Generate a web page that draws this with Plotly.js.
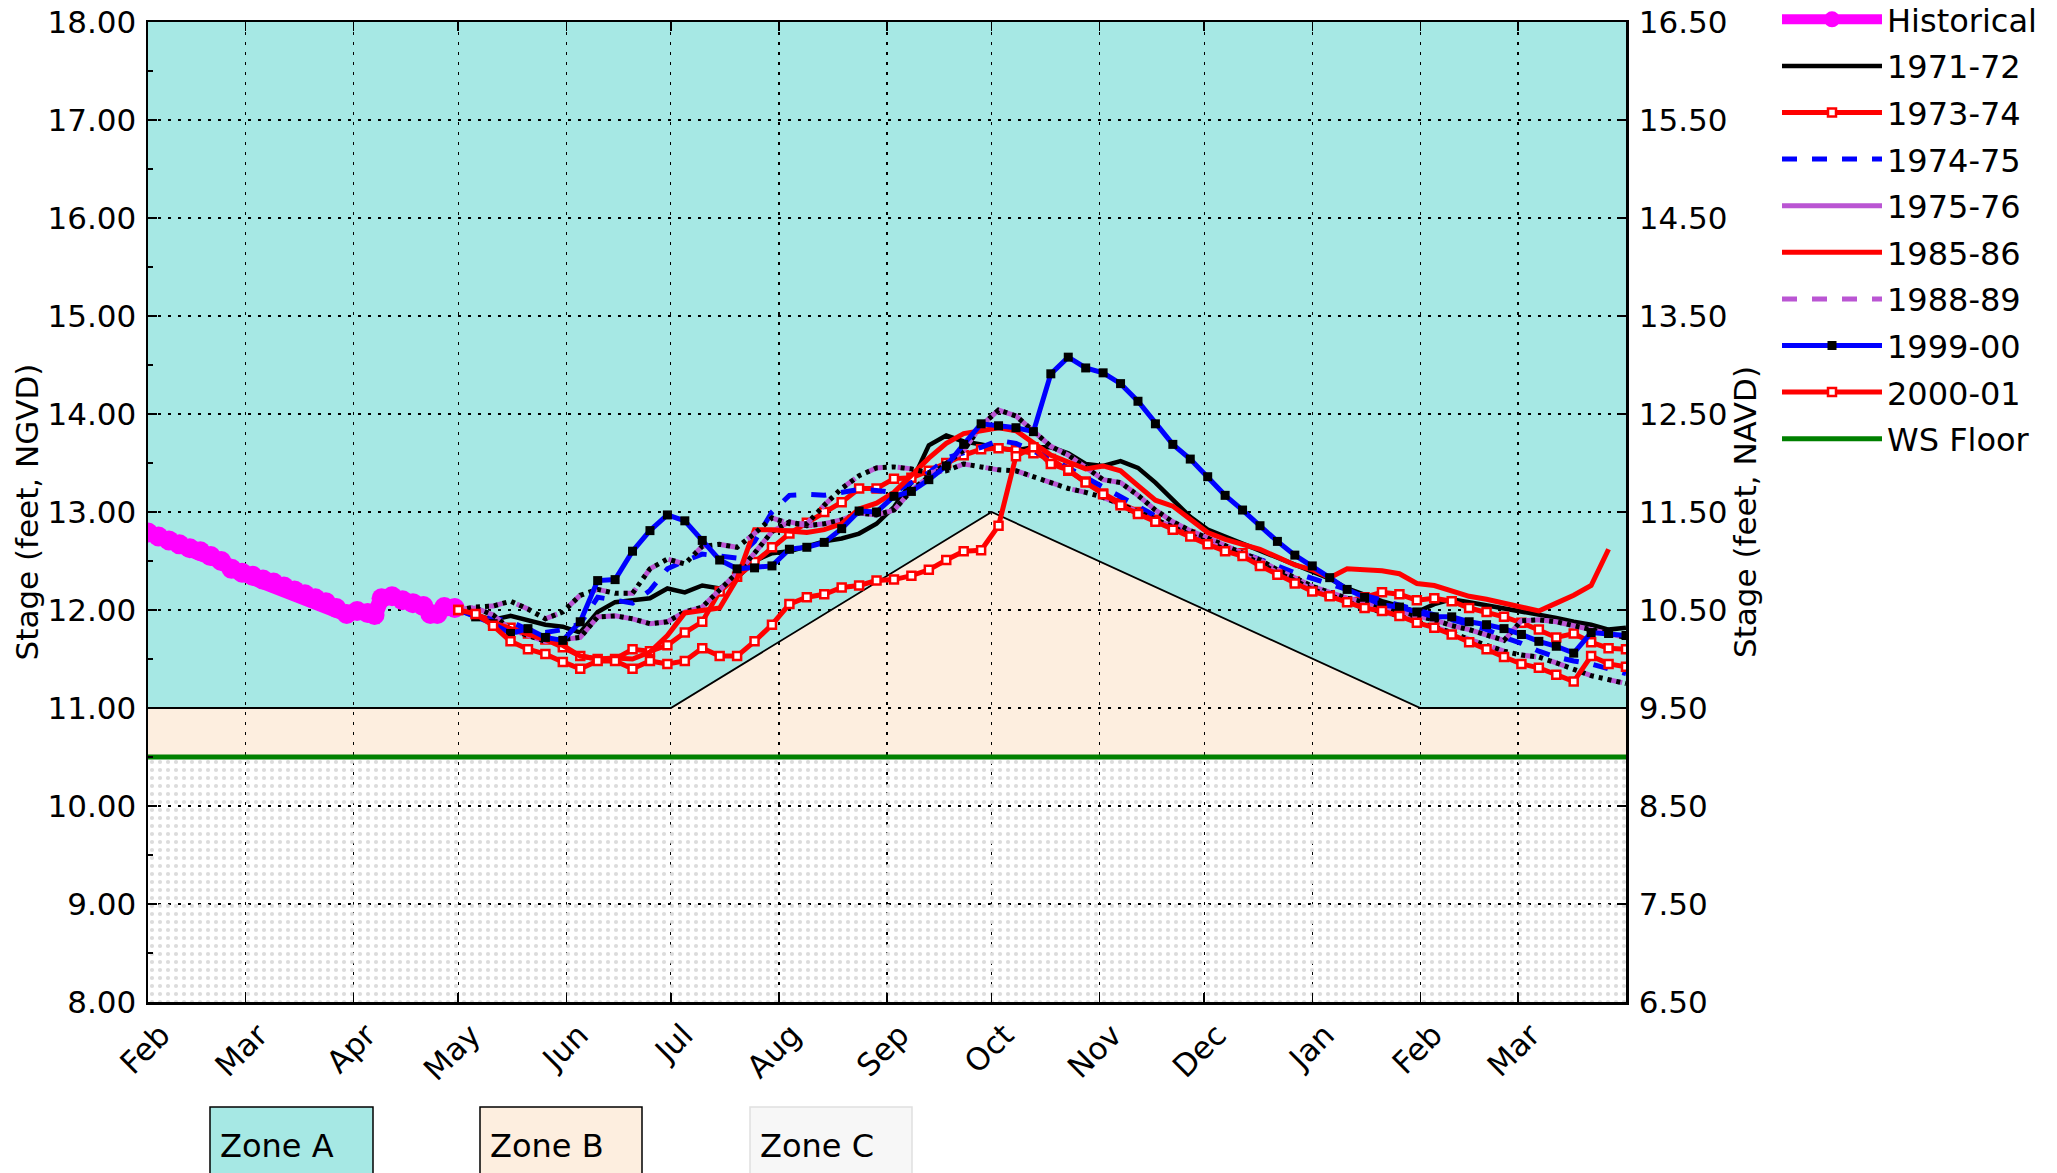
<!DOCTYPE html>
<html><head><meta charset="utf-8">
<script src="https://cdn.plot.ly/plotly-3.0.1.min.js"></script>
<style>body{margin:0;background:#fff}#chart{width:2057px;height:1173px}</style>
</head><body><div id="chart"></div><script>
// ---------- data ----------
const histDates = ['2021-02-01','2021-02-04','2021-02-07','2021-02-10','2021-02-13','2021-02-16','2021-02-19','2021-02-22','2021-02-25','2021-02-28',
  '2021-03-03','2021-03-06','2021-03-09','2021-03-12','2021-03-15','2021-03-18','2021-03-21','2021-03-24','2021-03-27','2021-03-30',
  '2021-04-02','2021-04-05','2021-04-07','2021-04-09','2021-04-12','2021-04-15','2021-04-18','2021-04-21','2021-04-23','2021-04-25','2021-04-27','2021-04-30'];
const histStage = [12.79,12.75,12.71,12.67,12.63,12.60,12.55,12.50,12.42,12.38,
  12.35,12.31,12.28,12.24,12.20,12.16,12.12,12.08,12.02,11.96,
  11.99,11.97,11.95,12.12,12.14,12.10,12.07,12.04,11.96,11.96,12.03,12.02];

const simDates = ['2021-05-01','2021-05-06','2021-05-11','2021-05-16','2021-05-21','2021-05-26','2021-05-31',
  '2021-06-05','2021-06-10','2021-06-15','2021-06-20','2021-06-25','2021-06-30',
  '2021-07-05','2021-07-10','2021-07-15','2021-07-20','2021-07-25','2021-07-30',
  '2021-08-04','2021-08-09','2021-08-14','2021-08-19','2021-08-24','2021-08-29',
  '2021-09-03','2021-09-08','2021-09-13','2021-09-18','2021-09-23','2021-09-28',
  '2021-10-03','2021-10-08','2021-10-13','2021-10-18','2021-10-23','2021-10-28',
  '2021-11-02','2021-11-07','2021-11-12','2021-11-17','2021-11-22','2021-11-27',
  '2021-12-02','2021-12-07','2021-12-12','2021-12-17','2021-12-22','2021-12-27',
  '2022-01-01','2022-01-06','2022-01-11','2022-01-16','2022-01-21','2022-01-26','2022-01-31',
  '2022-02-05','2022-02-10','2022-02-15','2022-02-20','2022-02-25',
  '2022-03-02','2022-03-07','2022-03-12','2022-03-17','2022-03-22','2022-03-27','2022-04-01'];

const y1971 = [12.00,11.95,11.90,11.94,11.90,11.85,11.83,11.77,11.98,12.08,12.10,12.12,12.22,12.18,12.25,12.22,12.33,12.50,12.58,12.60,
  12.65,12.70,12.73,12.78,12.88,13.05,13.30,13.68,13.78,13.72,13.69,13.65,13.63,13.66,13.66,13.60,13.49,13.47,13.52,13.45,
  13.30,13.12,12.95,12.82,12.75,12.68,12.60,12.54,12.47,12.40,12.32,12.22,12.15,12.09,12.04,11.98,12.06,12.11,12.08,12.05,
  12.02,11.98,11.96,11.92,11.88,11.85,11.80,11.82];
const y1973 = [12.00,11.96,11.88,11.82,11.76,11.70,11.62,11.53,11.50,11.50,11.60,11.58,11.64,11.77,11.88,12.19,12.34,12.49,12.64,12.78,
  12.89,13.00,13.10,13.24,13.24,13.34,13.35,13.42,13.50,13.58,13.64,13.65,13.63,13.60,13.54,13.42,13.31,13.19,13.09,13.00,
  12.92,12.84,12.77,12.69,12.61,12.58,12.47,12.38,12.29,12.20,12.15,12.09,12.13,12.18,12.16,12.10,12.12,12.09,12.02,11.98,
  11.93,11.87,11.80,11.72,11.76,11.67,11.61,11.60];
const y1974 = [12.00,11.96,11.93,11.88,11.80,11.77,11.80,11.86,12.13,12.10,12.07,12.20,12.42,12.50,12.57,12.55,12.53,12.70,13.00,13.17,
  13.18,13.17,13.20,13.23,13.22,13.20,13.30,13.40,13.55,13.60,13.66,13.73,13.70,13.62,13.55,13.45,13.35,13.25,13.15,13.05,
  12.96,12.88,12.80,12.72,12.65,12.58,12.52,12.45,12.38,12.32,12.26,12.20,12.15,12.10,12.05,12.00,11.95,11.90,11.85,11.80,
  11.72,11.66,11.58,11.52,11.48,11.45,11.40,11.35];
const y1975 = [12.00,12.02,11.95,11.80,11.74,11.68,11.70,11.72,11.93,11.94,11.91,11.86,11.88,11.98,12.03,12.21,12.38,12.58,12.80,12.90,
  12.86,12.88,12.92,12.99,12.97,13.02,13.22,13.36,13.50,13.63,13.88,14.04,13.98,13.83,13.67,13.58,13.45,13.33,13.30,13.17,
  13.02,12.90,12.81,12.73,12.66,12.58,12.51,12.41,12.33,12.24,12.18,12.12,12.08,12.03,11.98,11.94,11.90,11.84,11.80,11.74,
  11.69,11.89,11.90,11.88,11.84,11.80,11.76,11.72];
const y1985 = [12.00,11.93,11.87,11.81,11.75,11.70,11.64,11.53,11.50,11.51,11.50,11.57,11.74,11.97,11.99,12.02,12.32,12.82,12.82,12.80,
  12.79,12.82,12.88,13.03,13.09,13.20,13.38,13.55,13.70,13.80,13.83,13.86,13.83,13.70,13.58,13.51,13.44,13.47,13.42,13.27,
  13.12,13.06,12.92,12.79,12.72,12.67,12.62,12.54,12.46,12.41,12.33,12.42,12.41,12.40,12.37,12.27,12.25,12.20,12.14,12.11,
  12.07,12.03,11.99,12.07,12.15,12.25,12.62,null];
const y1988 = [12.00,12.03,12.04,12.09,12.01,11.91,11.98,12.15,12.21,12.17,12.17,12.42,12.52,12.47,12.65,12.67,12.64,12.78,12.94,12.88,
  12.88,13.07,13.24,13.37,13.45,13.46,13.44,13.40,13.42,13.49,13.46,13.43,13.42,13.36,13.30,13.24,13.20,13.15,13.08,13.00,
  12.92,12.84,12.77,12.69,12.62,12.56,12.48,12.38,12.30,12.21,12.15,12.08,12.02,11.98,11.94,11.88,11.83,11.77,11.70,11.64,
  11.58,11.54,11.52,11.46,11.40,11.33,11.29,11.25];
const y1999 = [12.00,11.93,11.86,11.76,11.81,11.72,11.69,11.88,12.30,12.31,12.60,12.81,12.97,12.91,12.71,12.51,12.42,12.43,12.45,12.62,
  12.64,12.69,12.83,13.01,13.00,13.16,13.21,13.33,13.47,13.69,13.90,13.88,13.86,13.82,14.41,14.58,14.47,14.42,14.31,14.13,
  13.90,13.69,13.54,13.36,13.17,13.02,12.86,12.70,12.56,12.45,12.33,12.21,12.13,12.05,12.03,11.98,11.93,11.93,11.88,11.85,
  11.81,11.75,11.68,11.63,11.56,11.77,11.76,11.74];
const y2000 = [12.00,11.96,11.84,11.68,11.60,11.55,11.47,11.40,11.48,11.48,11.40,11.48,11.45,11.48,11.61,11.53,11.53,11.68,11.85,12.06,
  12.13,12.16,12.23,12.25,12.30,12.31,12.35,12.41,12.51,12.60,12.61,12.86,13.57,13.66,13.49,13.43,13.30,13.18,13.07,12.98,
  12.90,12.82,12.75,12.67,12.60,12.55,12.45,12.36,12.27,12.19,12.14,12.08,12.02,11.99,11.94,11.87,11.82,11.75,11.67,11.60,
  11.52,11.45,11.41,11.34,11.27,11.53,11.45,11.42];

// zone definitions
const zoneDates = ['2021-02-01','2021-07-01','2021-10-01','2022-02-01','2022-04-01'];
const zoneBTop = [11.0, 11.0, 13.0, 11.0, 11.0];
const wsFloorLevel = 10.5;
const zoneATop = 18.0;
const xRange = ['2021-02-01','2022-04-01'];
const tickMonths = ['2021-02-01','2021-03-01','2021-04-01','2021-05-01','2021-06-01','2021-07-01','2021-08-01',
  '2021-09-01','2021-10-01','2021-11-01','2021-12-01','2022-01-01','2022-02-01','2022-03-01'];
const yRange = [8, 18];
const y2Range = [6.5, 16.5];
const zoneLabels = ['Zone A','Zone B','Zone C'];

// ---------- styles ----------
const FONT = 'DejaVu Sans';
const C_A = '#a6e8e4', C_B = '#fdeedf', PURPLE = '#ba55d3';

function line(name, y, color, extra) {
  return Object.assign({x: simDates, y: y, name: name, type: 'scatter', mode: 'lines',
    line: {color: color, width: 5}, legendgroup: name, hoverinfo: 'skip'}, extra || {});
}
function dotsOver(name, y) {
  return {x: simDates, y: y, type: 'scatter', mode: 'lines', legendgroup: name, showlegend: false,
    line: {color: '#000', width: 5, dash: '4px,5px'}, hoverinfo: 'skip'};
}
const sqRed = {mode: 'lines+markers', marker: {symbol: 'square', size: 8, color: '#fff', line: {color: '#ff0000', width: 2.5}}};

const nLast = zoneDates.length - 1;
const traces = [
  {x: [zoneDates[0], zoneDates[nLast]], y: [wsFloorLevel, wsFloorLevel], type: 'scatter', mode: 'lines',
   line: {width: 0, color: 'rgba(0,0,0,0)'}, fill: 'tozeroy', fillcolor: 'rgba(0,0,0,0)',
   fillpattern: {shape: '.', fgcolor: '#dcdcdc', bgcolor: 'rgba(0,0,0,0)', size: 8, solidity: 0.22},
   showlegend: false, hoverinfo: 'skip'},
  {x: zoneDates, y: zoneBTop, type: 'scatter', mode: 'lines', line: {color: '#000', width: 1.8},
   showlegend: false, hoverinfo: 'skip'},
  {x: histDates, y: histStage, name: 'Historical', type: 'scatter', mode: 'lines+markers', legendgroup: 'Historical',
   line: {color: '#ff00ff', width: 16}, marker: {color: '#ff00ff', size: 20}, hoverinfo: 'skip'},
  line('1971-72', y1971, '#000000', {line: {color: '#000', width: 4.5}}),
  line('1973-74', y1973, '#ff0000', sqRed),
  line('1974-75', y1974, '#0000ff', {line: {color: '#0000ff', width: 5, dash: 'dash'}}),
  line('1975-76', y1975, PURPLE),
  dotsOver('1975-76', y1975),
  line('1985-86', y1985, '#ff0000'),
  line('1988-89', y1988, PURPLE, {line: {color: PURPLE, width: 5, dash: 'dash'}}),
  dotsOver('1988-89', y1988),
  line('1999-00', y1999, '#0000ff', {mode: 'lines+markers', marker: {symbol: 'square', size: 9, color: '#000'}}),
  line('2000-01', y2000, '#ff0000', sqRed),
  {x: [zoneDates[0], zoneDates[nLast]], y: [wsFloorLevel, wsFloorLevel], name: 'WS Floor', type: 'scatter', mode: 'lines',
   legendgroup: 'WS Floor', line: {color: '#008000', width: 5}, hoverinfo: 'skip'},
  {x: [], y: [], yaxis: 'y2', type: 'scatter', showlegend: false}
];

// zone polygons (drawn beneath the grid)
function pathFrom(xs, ys) {
  return xs.map((d, i) => (i ? 'L' : 'M') + d + ',' + ys[i]).join(' ') + ' Z';
}
const topX = [zoneDates[0]].concat(zoneDates, [zoneDates[nLast]]);
const zoneAPathY = [zoneATop].concat(zoneBTop, [zoneATop]);
const zoneBPathY = [wsFloorLevel].concat(zoneBTop, [wsFloorLevel]);

const plotL = 148, plotR = 1626, plotT = 22, plotB = 1002;
const W = 2057, H = 1173;
const px2x = p => (p - plotL) / (plotR - plotL);
const py2y = p => (plotB - p) / (plotB - plotT);

const boxX = [[210, 373], [480, 642], [750, 912]];
const boxFill = [C_A, C_B, '#f7f7f7'];
const boxLine = ['#000', '#000', '#e0e0e0'];

const shapes = [
  {type: 'path', xref: 'x', yref: 'y', path: pathFrom(topX, zoneAPathY), fillcolor: C_A, line: {width: 0}, layer: 'below'},
  {type: 'path', xref: 'x', yref: 'y', path: pathFrom(topX, zoneBPathY), fillcolor: C_B, line: {width: 0}, layer: 'below'}
];
const annotations = [];
zoneLabels.forEach((lab, i) => {
  shapes.push({type: 'rect', xref: 'paper', yref: 'paper', x0: px2x(boxX[i][0]), x1: px2x(boxX[i][1]),
    y0: py2y(1200), y1: py2y(1107), fillcolor: boxFill[i], line: {color: boxLine[i], width: 1.5}, layer: 'above'});
  annotations.push({xref: 'paper', yref: 'paper', x: px2x(boxX[i][0] + 8), y: py2y(1146), xanchor: 'left', yanchor: 'middle',
    text: lab, showarrow: false, font: {family: FONT, size: 32, color: '#000'}});
});

const axFont = {family: FONT, size: 31, color: '#000'};
const legFont = {family: FONT, size: 32, color: '#000'};
const layout = {
  width: W, height: H,
  margin: {l: plotL, r: W - plotR, t: plotT, b: H - plotB, autoexpand: false},
  paper_bgcolor: '#fff', plot_bgcolor: '#fff',
  font: axFont,
  showlegend: true,
  legend: {x: px2x(1777), y: py2y(-8), xanchor: 'left', yanchor: 'top', font: legFont,
    bgcolor: 'rgba(0,0,0,0)', traceorder: 'grouped', tracegroupgap: 2, itemwidth: 100},
  xaxis: {type: 'date', range: xRange, tickmode: 'array', tickvals: tickMonths, tickformat: '%b', tickangle: -45,
    tickfont: axFont, ticks: 'inside', ticklen: 9, tickwidth: 1.5, tickcolor: '#000', ticklabelshift: 13,
    showline: true, linewidth: 2.5, linecolor: '#000', mirror: 'ticks',
    showgrid: true, gridcolor: '#000', gridwidth: 1.2, griddash: '3px,7px', zeroline: false},
  yaxis: {range: yRange, tick0: 8, dtick: 1, tickformat: '.2f', tickfont: axFont,
    ticks: 'inside', ticklen: 9, tickwidth: 1.5, tickcolor: '#000', ticklabelstandoff: 3,
    minor: {ticks: 'inside', ticklen: 5, dtick: 0.5, tickcolor: '#000', tickwidth: 1.2, showgrid: false},
    showline: true, linewidth: 2.5, linecolor: '#000',
    showgrid: true, gridcolor: '#000', gridwidth: 1.2, griddash: '3px,7px', zeroline: false,
    title: {text: 'Stage (feet, NGVD)', font: axFont, standoff: 0}},
  yaxis2: {overlaying: 'y', side: 'right', range: y2Range, tick0: 6.5, dtick: 1, tickformat: '.2f', tickfont: axFont,
    ticks: 'inside', ticklen: 9, tickwidth: 1.5, tickcolor: '#000', ticklabelstandoff: 4,
    showline: true, linewidth: 2.5, linecolor: '#000', showgrid: false, zeroline: false,
    title: {text: 'Stage (feet, NAVD)', font: axFont, standoff: 0}},
  shapes: shapes,
  annotations: annotations
};
Plotly.newPlot('chart', traces, layout, {displayModeBar: false, staticPlot: true});
</script></body></html>
